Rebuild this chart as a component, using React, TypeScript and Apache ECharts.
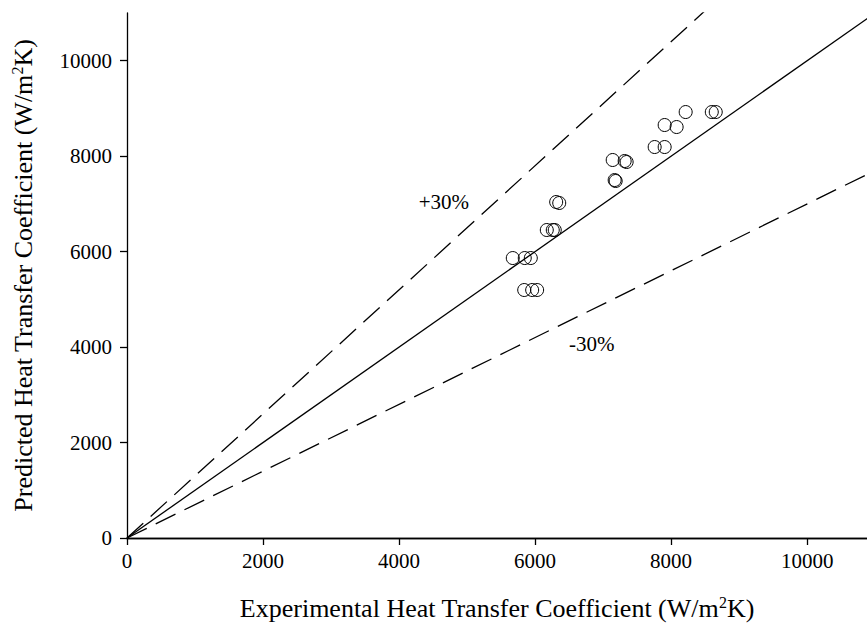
import React, { useEffect, useRef } from "react";
import * as echarts from "echarts";

// Experimental vs. predicted heat transfer coefficients (W/m²K)
const experimental = [
  5672, 5848, 5937,
  5840, 5957, 6030,
  6172, 6260, 6289,
  6310, 6355,
  7141, 7317, 7346,
  7170, 7185,
  7758, 7905,
  7905, 8081,
  8214, 8598, 8656,
];
const predicted = [
  5866, 5866, 5866,
  5196, 5196, 5196,
  6453, 6453, 6453,
  7040, 7019,
  7920, 7899, 7878,
  7500, 7480,
  8192, 8192,
  8653, 8611,
  8925, 8925, 8925,
];

// Reference lines: perfect agreement and ±30 % bands
const parityLine = [[0, 0], [11000, 11000]];
const plus30Line = [[0, 0], [11000, 14300]];
const minus30Line = [[0, 0], [11000, 7700]];

const tickValues = [0, 2000, 4000, 6000, 8000, 10000];
const bandLabels = [
  { text: "+30%", at: [4659, 7040] },
  { text: "-30%", at: [6833, 4065] },
];

const FONT = "'Liberation Serif', 'Times New Roman', serif";

export default function App() {
  const ref = useRef<HTMLDivElement>(null);

  useEffect(() => {
    if (!ref.current) return;
    const chart = echarts.init(ref.current, undefined, { renderer: "svg" });
    const points = experimental.map((x, i) => [x, predicted[i]]);

    const axisText = {
      fontFamily: FONT,
      fontSize: 21,
      color: "#000",
      formatter: (v: number) => String(v),
    };
    const nameStyle = {
      fontFamily: FONT,
      fontSize: 26,
      color: "#000",
      rich: {
        sup: {
          fontFamily: FONT,
          fontSize: 16,
          color: "#000",
          verticalAlign: "top" as const,
          padding: [0, 0, 12, 0],
        },
      },
    };

    chart.setOption({
      animation: false,
      backgroundColor: "#fff",
      grid: {
        left: 127,
        top: 13,
        right: 0,
        bottom: 85,
        containLabel: false,
        outerBoundsMode: "none",
      },
      xAxis: [
        {
          type: "value",
          min: 0,
          max: 10880,
          interval: 2000,
          splitLine: { show: false },
          axisLine: { show: true, onZero: false, lineStyle: { color: "#000", width: 1.3 } },
          axisTick: { show: true, inside: false, length: 7, customValues: tickValues, lineStyle: { color: "#000", width: 1.3 } },
          axisLabel: { margin: 12, customValues: tickValues, ...axisText },
          name: "Experimental Heat Transfer Coefficient (W/m{sup|2}K)",
          nameLocation: "middle",
          nameGap: 56,
          nameTextStyle: nameStyle,
        },
        {
          type: "value",
          position: "top",
          min: 0,
          max: 10880,
          splitLine: { show: false },
          axisLine: { show: true, lineStyle: { color: "#000", width: 1.3 } },
          axisTick: { show: false },
          axisLabel: { show: false },
        },
      ],
      yAxis: {
        type: "value",
        min: 0,
        max: 11000,
        interval: 2000,
        splitLine: { show: false },
        axisLine: { show: true, onZero: false, lineStyle: { color: "#000", width: 1.3 } },
        axisTick: { show: true, inside: false, length: 7, customValues: tickValues, lineStyle: { color: "#000", width: 1.3 } },
        axisLabel: { margin: 15, customValues: tickValues, ...axisText },
        name: "Predicted Heat Transfer Coefficient (W/m{sup|2}K)",
        nameLocation: "middle",
        nameGap: 90,
        nameTextStyle: nameStyle,
      },
      series: [
        {
          type: "line",
          data: parityLine,
          symbol: "none",
          clip: true,
          lineStyle: { color: "#000", width: 1.3 },
          z: 2,
        },
        {
          type: "line",
          data: plus30Line,
          symbol: "none",
          clip: true,
          lineStyle: { color: "#000", width: 1.3, type: [22, 10] },
          z: 2,
        },
        {
          type: "line",
          data: minus30Line,
          symbol: "none",
          clip: true,
          lineStyle: { color: "#000", width: 1.3, type: [22, 10] },
          z: 2,
        },
        {
          type: "scatter",
          data: points,
          symbol: "circle",
          symbolSize: 13,
          itemStyle: { color: "rgba(255,255,255,0)", borderColor: "#000", borderWidth: 1, opacity: 1 },
          z: 3,
        },
        {
          type: "scatter",
          data: bandLabels.map((b) => ({ value: b.at, name: b.text })),
          symbolSize: 0,
          silent: true,
          itemStyle: { opacity: 1 },
          label: {
            show: true,
            position: "inside",
            formatter: (p: any) => p.name,
            fontFamily: FONT,
            fontSize: 21,
            color: "#000",
            textBorderWidth: 0,
          },
          z: 4,
        },
      ],
    });

    return () => chart.dispose();
  }, []);

  return (
    <div
      ref={ref}
      style={{ position: "fixed", left: 0, top: 0, width: 867, height: 623, background: "#fff" }}
    />
  );
}
